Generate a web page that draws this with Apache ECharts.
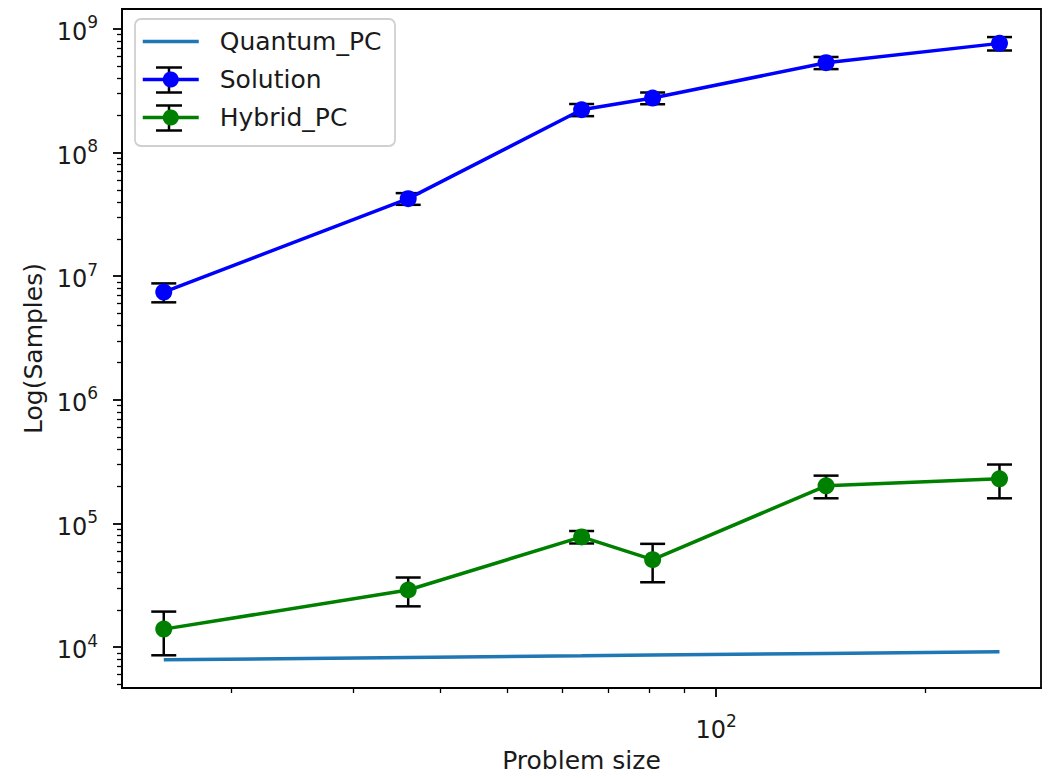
<!DOCTYPE html>
<html><head><meta charset="utf-8">
<script src="https://cdn.jsdelivr.net/npm/echarts@6/dist/echarts.min.js"></script>
<style>html,body{margin:0;padding:0;background:#fff}#c{width:1051px;height:778px}</style>
</head><body><div id="c"></div>
<script>
// ---- data ----
const problemSize = [16, 36, 64, 81, 144, 256];
const quantumPC = [7900, 8270, 8520, 8640, 8900, 9190];
const solution = [7.45e6, 4.24e7, 2.22e8, 2.76e8, 5.33e8, 7.64e8];
const solutionErr = [1.3e6, 4.6e6, 2.5e7, 3.0e7, 6.0e7, 9.5e7];
const hybridPC = [1.40e4, 2.90e4, 7.8e4, 5.1e4, 2.02e5, 2.30e5];
const hybridErr = [5.4e3, 7.6e3, 9.0e3, 1.75e4, 4.2e4, 7.0e4];
const seriesNames = ['Quantum_PC', 'Solution', 'Hybrid_PC'];
const xMajorTicks = [100];
const xMinorTicks = [20, 30, 40, 50, 60, 70, 80, 90, 200];
const yMajorTicks = [1e4, 1e5, 1e6, 1e7, 1e8, 1e9];
const minorMultipliers = [2, 3, 4, 5, 6, 7, 8, 9];
const yDecades = [1e3, 1e4, 1e5, 1e6, 1e7, 1e8];
const xRange = [13.93, 293.8];
const yRange = [4677, 1.449e9];

const yMinorTicks = [];
yDecades.forEach(d => minorMultipliers.forEach(m => yMinorTicks.push(m * d)));

const FONT = '"DejaVu Sans", sans-serif';
const TXT = '#1a1a1a';
const FS = 25;
const rich = {
  b: {fontSize: 24, fontFamily: FONT, color: TXT, lineHeight: 30, verticalAlign: 'bottom'},
  s: {fontSize: 17, fontFamily: FONT, color: TXT, lineHeight: 17, verticalAlign: 'top'}
};
const powFmt = v => '{b|10}{s|' + Math.round(Math.log10(v)) + '}';

function pairs(xs, ys) { return xs.map((x, i) => [x, ys[i]]); }
function triples(xs, ys, es) { return xs.map((x, i) => [x, ys[i], es[i]]); }

function errRender(params, api) {
  const x = api.value(0), y = api.value(1), e = api.value(2);
  const top = api.coord([x, y + e]);
  const bot = api.coord([x, y - e]);
  const hw = 12.5;
  const style = {stroke: '#000', lineWidth: 2.5, fill: null};
  return {type: 'group', children: [
    {type: 'line', shape: {x1: top[0], y1: top[1], x2: bot[0], y2: bot[1]}, style},
    {type: 'line', shape: {x1: top[0] - hw, y1: top[1], x2: top[0] + hw, y2: top[1]}, style},
    {type: 'line', shape: {x1: bot[0] - hw, y1: bot[1], x2: bot[0] + hw, y2: bot[1]}, style}
  ]};
}

const axisLineStyle = {color: '#000', width: 1.8};
function majorAxis(range, ticks, extra) {
  return Object.assign({
    type: 'log', logBase: 10, min: range[0], max: range[1],
    axisLine: {show: true, onZero: false, lineStyle: axisLineStyle},
    axisTick: {show: true, inside: false, length: 9, lineStyle: axisLineStyle, customValues: ticks},
    splitLine: {show: false}, minorTick: {show: false}, minorSplitLine: {show: false},
    nameTextStyle: {fontSize: FS, fontFamily: FONT, color: TXT}
  }, extra);
}
function minorAxis(range, ticks, pos) {
  return {
    type: 'log', logBase: 10, min: range[0], max: range[1], position: pos,
    axisLine: {show: false},
    axisTick: {show: true, inside: false, length: 5, lineStyle: {color: '#000', width: 1.3}, customValues: ticks},
    axisLabel: {show: false},
    splitLine: {show: false}
  };
}

const chart = echarts.init(document.getElementById('c'), null, {renderer: 'svg'});
chart.setOption({
  animation: false,
  backgroundColor: '#fff',
  grid: {left: 122, right: 10, top: 9, bottom: 87, show: true, borderColor: '#000', borderWidth: 1.8, backgroundColor: 'transparent', containLabel: false},
  xAxis: [
    majorAxis(xRange, xMajorTicks, {position: 'bottom', name: 'Problem size', nameLocation: 'middle', nameGap: 60,
      axisLabel: {show: true, customValues: xMajorTicks, formatter: powFmt, rich: rich, margin: 24}}),
    minorAxis(xRange, xMinorTicks, 'bottom')
  ],
  yAxis: [
    majorAxis(yRange, yMajorTicks, {position: 'left', name: 'Log(Samples)', nameLocation: 'middle', nameGap: 72,
      axisLabel: {show: true, customValues: yMajorTicks, formatter: powFmt, rich: rich, margin: 24}}),
    minorAxis(yRange, yMinorTicks, 'left')
  ],
  legend: {
    data: [
      {name: seriesNames[0], itemStyle: {opacity: 0}},
      {name: seriesNames[1]},
      {name: seriesNames[2]}
    ],
    orient: 'vertical', left: 141, top: 29, padding: 0,
    itemWidth: 56, itemHeight: 20, itemGap: 13, selectedMode: false,
    lineStyle: {width: 3.5},
    textStyle: {fontSize: FS, fontFamily: FONT, color: TXT, padding: [0, 0, 0, 16]},
    backgroundColor: 'transparent'
  },
  graphic: [
    {type: 'rect', z: 1, shape: {x: 135, y: 19, width: 260, height: 127, r: 6},
     style: {fill: 'rgba(255,255,255,0.8)', stroke: '#d0d0d0', lineWidth: 1.8}},
    {type: 'line', z: 3, shape: {x1: 169, y1: 67.5, x2: 169, y2: 92.5}, style: {stroke: '#000', lineWidth: 2.5}},
    {type: 'line', z: 3, shape: {x1: 156, y1: 67.5, x2: 182, y2: 67.5}, style: {stroke: '#000', lineWidth: 2.5}},
    {type: 'line', z: 3, shape: {x1: 156, y1: 92.5, x2: 182, y2: 92.5}, style: {stroke: '#000', lineWidth: 2.5}},
    {type: 'line', z: 3, shape: {x1: 169, y1: 105.5, x2: 169, y2: 130.5}, style: {stroke: '#000', lineWidth: 2.5}},
    {type: 'line', z: 3, shape: {x1: 156, y1: 105.5, x2: 182, y2: 105.5}, style: {stroke: '#000', lineWidth: 2.5}},
    {type: 'line', z: 3, shape: {x1: 156, y1: 130.5, x2: 182, y2: 130.5}, style: {stroke: '#000', lineWidth: 2.5}}
  ],
  series: [
    {type: 'line', name: 'Quantum_PC', data: pairs(problemSize, quantumPC), symbol: 'none',
     lineStyle: {color: '#1f77b4', width: 3.5}, itemStyle: {color: '#1f77b4'}, z: 3, silent: true},
    {type: 'custom', name: 'Solution err', renderItem: errRender, data: triples(problemSize, solution, solutionErr),
     encode: {x: 0, y: 1}, z: 2, silent: true},
    {type: 'line', name: 'Solution', data: pairs(problemSize, solution), symbol: 'circle', symbolSize: 17,
     lineStyle: {color: '#0000ff', width: 3.5}, itemStyle: {color: '#0000ff'}, z: 4, silent: true},
    {type: 'custom', name: 'Hybrid err', renderItem: errRender, data: triples(problemSize, hybridPC, hybridErr),
     encode: {x: 0, y: 1}, z: 2, silent: true},
    {type: 'line', name: 'Hybrid_PC', data: pairs(problemSize, hybridPC), symbol: 'circle', symbolSize: 17,
     lineStyle: {color: '#008000', width: 3.5}, itemStyle: {color: '#008000'}, z: 4, silent: true}
  ]
});
</script></body></html>
